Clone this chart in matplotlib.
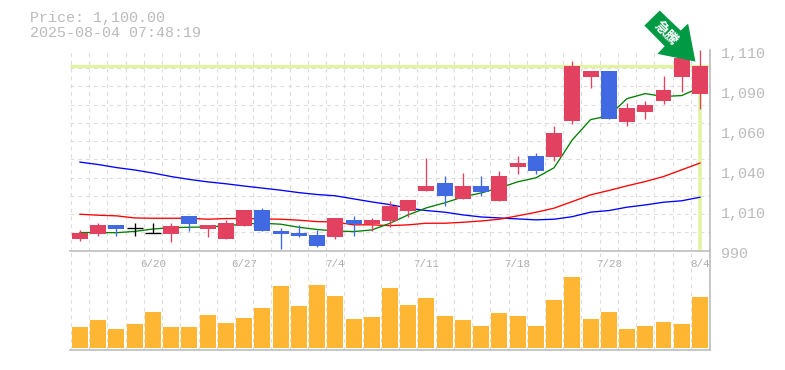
import numpy as np
import matplotlib
matplotlib.use("Agg")
import matplotlib.pyplot as plt
from matplotlib.patches import Polygon
from matplotlib.transforms import Affine2D, ScaledTranslation

dates = ["6/16","6/17","6/18","6/19","6/20","6/23","6/24","6/25","6/26","6/27",
         "6/30","7/1","7/2","7/3","7/4","7/7","7/8","7/9","7/10","7/11",
         "7/14","7/15","7/16","7/17","7/18","7/22","7/23","7/24","7/25","7/28",
         "7/29","7/30","7/31","8/1","8/4"]
shown_dates = ["6/20","6/27","7/4","7/11","7/18","7/28","8/4"]

opens = [992.2,995.3,1000.9,998.9,995.7,995.3,1006.6,998.4,992.2,1000.3,
         1010.3,997.2,995.9,994.7,993.4,1004.1,1001.6,1003.4,1009.7,1022.2,
         1027.2,1017.2,1025.3,1015.9,1037.2,1044.1,1043.4,1066.0,1093.4,1097.2,
         1065.3,1071.6,1078.4,1093.4,1082.8]
closes = [995.9,1000.9,998.4,998.9,995.7,1000.3,1001.6,1000.9,1002.2,1010.3,
          997.2,995.3,994.1,987.8,1005.3,1001.6,1004.1,1012.8,1016.6,1025.3,
          1019.1,1025.3,1021.6,1031.6,1039.7,1034.7,1058.4,1100.3,1097.2,1067.2,
          1074.1,1075.9,1085.3,1105.3,1100.3]
highs = [997.8,1002.2,1000.9,1002.0,1002.0,1002.2,1006.6,1000.9,1004.1,1010.3,
         1011.6,999.1,1000.9,997.8,1005.3,1006.6,1005.3,1015.9,1016.6,1042.8,
         1031.6,1033.4,1031.6,1034.7,1044.1,1046.0,1062.8,1103.4,1097.2,1097.2,
         1077.2,1078.4,1094.1,1105.3,1110.0]
lows = [990.9,994.1,994.1,994.1,995.7,990.3,997.2,993.4,992.2,1000.3,
        997.2,986.0,993.4,987.2,992.2,994.1,997.2,999.7,1005.9,1022.2,
        1012.8,1017.2,1019.1,1015.9,1032.8,1032.8,1041.0,1064.1,1086.0,1067.2,
        1062.8,1067.2,1076.6,1084.1,1073.4]
ma_short = [996.2,996.2,996.1,996.9,998.4,999.2,999.5,999.7,1000.3,1001.6,
            1002.0,1001.4,999.5,998.1,997.2,996.8,997.8,1002.0,1007.2,1011.6,
            1014.7,1018.4,1020.9,1024.0,1027.8,1030.3,1036.6,1054.0,1066.6,1069.0,
            1079.7,1082.8,1081.0,1081.6,1086.6]
ma_mid = [1007.6,1007.0,1006.6,1005.3,1005.1,1005.1,1005.1,1004.5,1004.9,1005.0,
          1004.7,1004.5,1003.9,1003.0,1002.8,1001.0,1001.0,1000.5,1001.0,1002.0,
          1002.0,1002.6,1003.4,1004.5,1006.6,1008.8,1011.4,1015.5,1019.7,1022.4,
          1025.3,1028.0,1031.1,1035.3,1039.5]
ma_long = [1040.1,1038.6,1036.7,1035.2,1033.3,1031.1,1029.3,1027.8,1026.6,1025.2,
           1023.9,1022.6,1021.1,1019.9,1019.1,1017.2,1015.3,1013.6,1011.4,1009.9,
           1008.9,1007.2,1005.9,1005.3,1004.7,1004.1,1004.5,1006.1,1008.9,1009.9,
           1012.0,1013.4,1015.1,1016.0,1018.2]
volume = [21,28,19,24,36,21,21,33,25,30,40,62,42,63,52,29,31,60,
          43,50,32,28,22,35,32,22,48,71,29,36,19,22,26,24,51]
current_price = 1100
price_label = "Price: 1,100.00"
time_label = "2025-08-04 07:48:19"
price_ticks = [1110,1085,1060,1035,1010,985]
price_tick_labels = ["1,110","1,090","1,060","1,040","1,010","990"]
badge_text = "急騰"

UP, DOWN, FLAT = "#E2425F", "#4169E1", "#000000"
GRID, AXIS, TEXT = "#DDDDDD", "#BDBDBD", "#BBBBBB"
MONO = "Liberation Mono"
W, H = 785, 370

fig = plt.figure(figsize=(W/100, H/100), dpi=100, facecolor="white")
ax = fig.add_axes([70/W, 1-250.5/H, 640/W, 200.5/H])
vax = fig.add_axes([70/W, 1-350/H, 640/W, 99.5/H])
x = np.arange(len(dates))
xlim = (-0.548, 34.55)

for a in (ax, vax):
    a.set_xlim(*xlim)
    a.patch.set_alpha(0)
    a.set_axisbelow(True)
    for s in ("top", "left"):
        a.spines[s].set_visible(False)
    for s in ("bottom", "right"):
        a.spines[s].set_color(AXIS)
        a.spines[s].set_linewidth(1.2)
    a.set_xticks(np.arange(-0.5, 35, 1), minor=True)
    a.grid(True, which="minor", axis="x", color=GRID, lw=0.8, ls=(0, (3.5, 3.5)))
    a.tick_params(which="both", length=0)

ax.set_ylim(price_ticks[-1], price_ticks[0])
ax.set_yticks(np.linspace(price_ticks[-1], price_ticks[0], 12), minor=True)
ax.grid(True, which="minor", axis="y", color=GRID, lw=0.8, ls=(0, (3.5, 3.5)))

ax.yaxis.tick_right()
ax.set_yticks(price_ticks)
ax.set_yticklabels(price_tick_labels, family=MONO, fontsize=10.8, color=TEXT, va="top")
ax.tick_params(axis="y", which="major", pad=7.8)
shift = ScaledTranslation(0, 3/100, fig.dpi_scale_trans)
for lab in ax.get_yticklabels():
    lab.set_transform(lab.get_transform() + shift)
ax.set_xticks([dates.index(d) for d in shown_dates])
ax.set_xticklabels(shown_dates, family=MONO, fontsize=7.8, color="#ADADAD")
ax.tick_params(axis="x", which="major", pad=6)

# highlight lines for the current price and latest session
ax.hlines(current_price, xlim[0], xlim[1], color="#E2F3A3", lw=2.4, zorder=1.5)
ax.vlines(x[-1], price_ticks[-1], current_price, color="#E2F3A3", lw=2.6, zorder=1.5)

# moving averages
ax.plot(x, ma_long, color="#0000FF", lw=0.95, zorder=2)
ax.plot(x, ma_mid, color="#FF0000", lw=0.95, zorder=2)
ax.plot(x, ma_short, color="#008000", lw=0.95, zorder=2)

# candles
o, c, hi, lo = map(np.array, (opens, closes, highs, lows))
cols = [UP if b > a else DOWN if b < a else FLAT for a, b in zip(o, c)]
ax.vlines(x, lo, hi, colors=cols, lw=0.95, zorder=3)
bw = 0.877
for xi, a, b, col in zip(x, o, c, cols):
    if a == b:
        ax.hlines(a, xi - bw/2, xi + bw/2, color=col, lw=0.95, zorder=3)
    else:
        ax.bar(xi, abs(b - a), bottom=min(a, b), width=bw, color=col, lw=0, zorder=3)

# badge arrow pointing at the latest session (outline in pixels relative to its tip)
tip = (33.75, 1102.8)
outline = [(-35.7, 51), (-14.7, 31), (-7.3, 38), (0, 0), (-38, 7.7), (-30.7, 15.3), (-51, 36)]
tip_px = ax.transData.transform(tip)
ax.add_patch(Polygon(outline, closed=True, facecolor="#009944", edgecolor="none",
                     transform=Affine2D().translate(*tip_px), clip_on=False, zorder=6))
ax.annotate(badge_text, xy=tip, xycoords="data",
            xytext=(-29.5, 28.5), textcoords="offset pixels",
            family=["Noto Sans CJK JP", "DejaVu Sans"], fontweight="bold",
            fontsize=10, color="white", rotation=-45, rotation_mode="anchor",
            ha="center", va="center", annotation_clip=False, zorder=7)

# volume
vax.set_ylim(-2, 97.5)
vax.bar(x, volume, width=bw, color="#FFB733", lw=0, zorder=3)
vax.set_xticks([])
vax.set_yticks([])

fig.text(30/W, 1-18/H, price_label, family=MONO, fontsize=10.8, color=TEXT, va="center")
fig.text(30/W, 1-33/H, time_label, family=MONO, fontsize=10.8, color=TEXT, va="center")

fig.savefig("out.png", dpi=100, facecolor="white")
